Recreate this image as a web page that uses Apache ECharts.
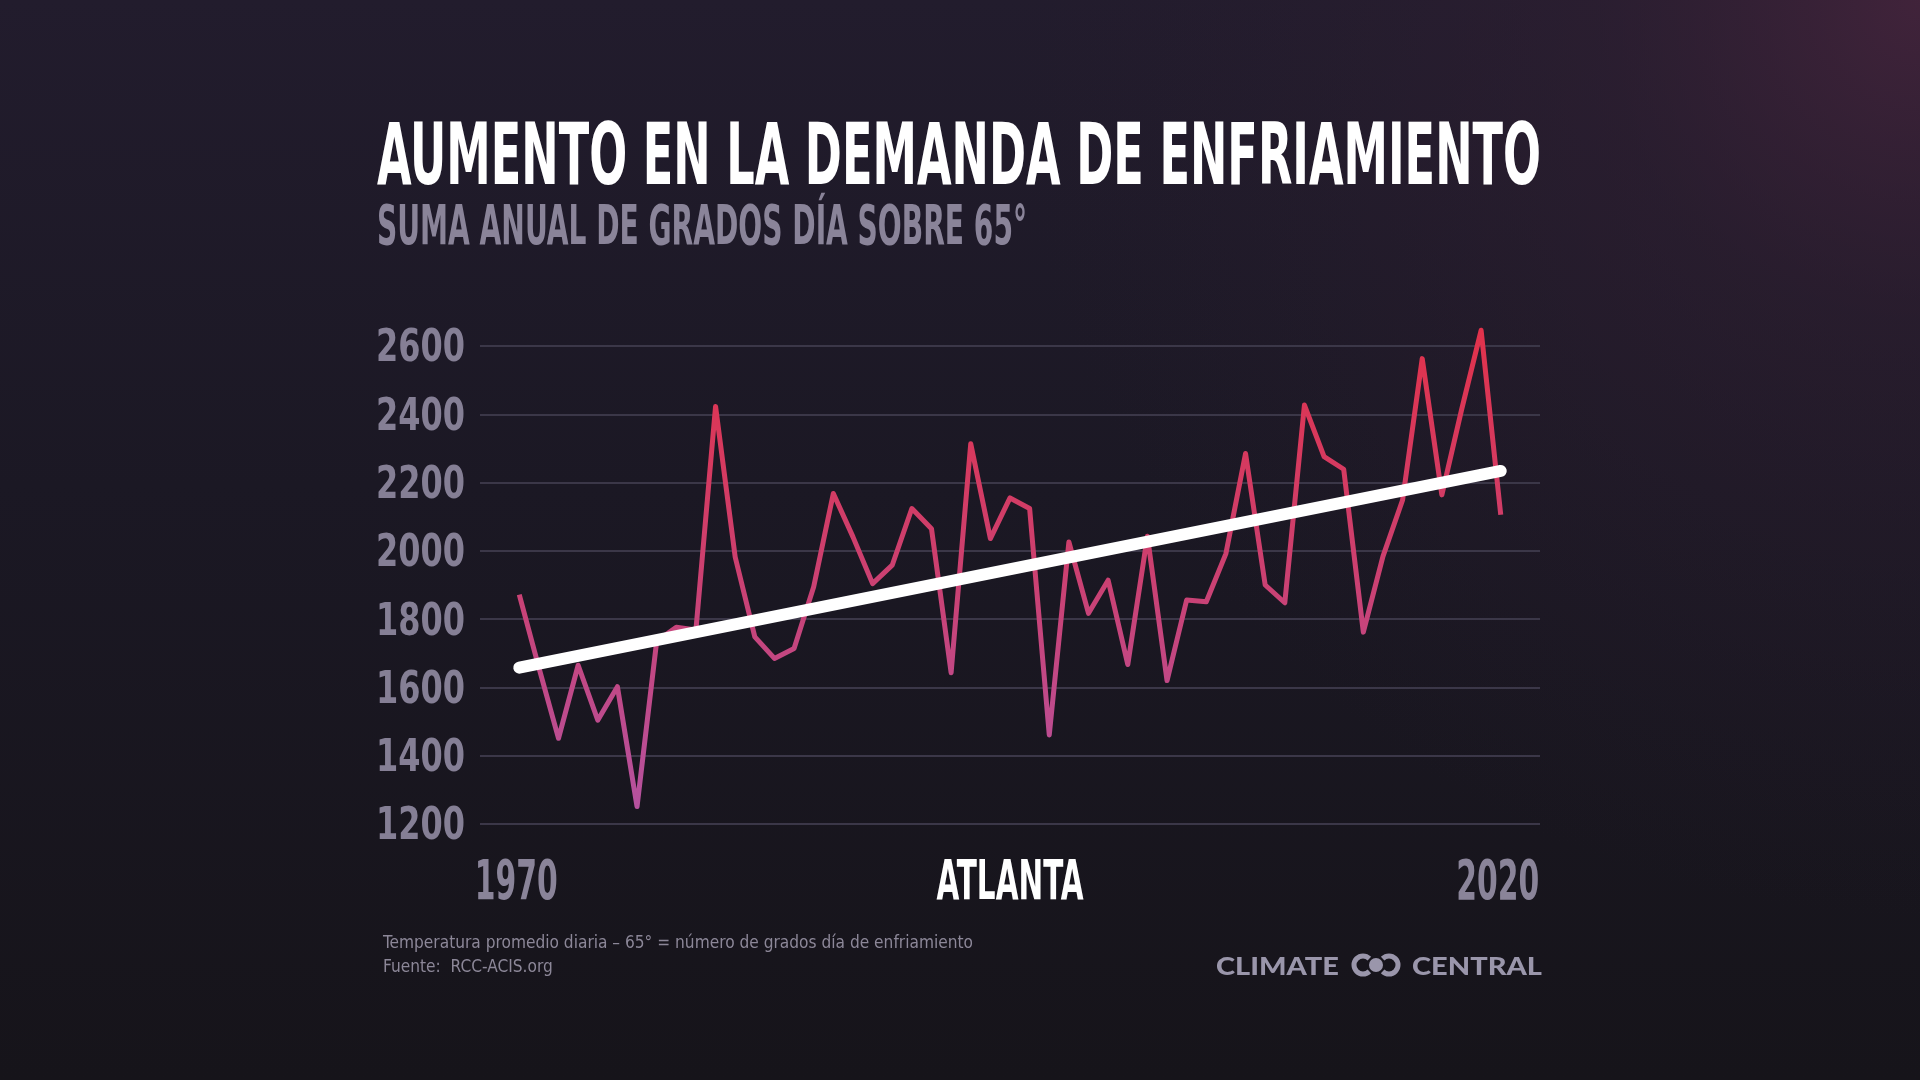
<!DOCTYPE html>
<html>
<head>
    <meta charset="utf-8">
    <title>Aumento en la demanda de enfriamiento</title>
    <script src="https://cdn.jsdelivr.net/npm/echarts@6/dist/echarts.min.js"></script>
    <style>
        html, body { margin: 0; padding: 0; background: #19161f; }
        #chart1 { width: 1920px; height: 1080px; }
    </style>
</head>
<body>
<div id="chart1"></div>
<script type="text/javascript">
    // datos: grados día de enfriamiento, Atlanta
    var years = [1970, 1971, 1972, 1973, 1974, 1975, 1976, 1977, 1978, 1979,
        1980, 1981, 1982, 1983, 1984, 1985, 1986, 1987, 1988, 1989,
        1990, 1991, 1992, 1993, 1994, 1995, 1996, 1997, 1998, 1999,
        2000, 2001, 2002, 2003, 2004, 2005, 2006, 2007, 2008, 2009,
        2010, 2011, 2012, 2013, 2014, 2015, 2016, 2017, 2018, 2019, 2020];
    var cdd = [1872, 1658, 1451, 1665, 1504, 1602, 1251, 1735, 1776, 1768,
        2423, 1982, 1748, 1685, 1714, 1895, 2168, 2041, 1904, 1958,
        2124, 2065, 1643, 2314, 2036, 2155, 2124, 1461, 2026, 1817,
        1914, 1667, 2043, 1620, 1856, 1851, 1992, 2285, 1900, 1848,
        2427, 2276, 2239, 1762, 1984, 2149, 2563, 2164, 2412, 2646, 2106];
    var trendYears = [1970, 2020];
    var trendValues = [1658, 2234];
    var yTicks = [1200, 1400, 1600, 1800, 2000, 2200, 2400, 2600];
    var xTickLabels = [1970, 2020];

    var NARROW = '"DejaVu Sans Condensed", "Liberation Sans Narrow", sans-serif';

    // ancho natural de un texto, para comprimirlo al ancho del original
    var measureCtx = document.createElement('canvas').getContext('2d');
    function fit(text, font, width) {
        measureCtx.font = font;
        return width / measureCtx.measureText(text).width;
    }
    // y = centro de las mayúsculas
    function label(text, size, font, fill, x, y, align, width, sx) {
        return {
            type: 'text', x: x, y: y + 0.09 * size, silent: true,
            scaleX: sx || fit(text, font, width),
            style: { text: text, font: font, fill: fill, textAlign: align, textVerticalAlign: 'middle' }
        };
    }

    var myChart1 = echarts.init(document.getElementById('chart1'));

    var fTitle = 'bold 86px ' + NARROW;
    var fSub = 'bold 55px ' + NARROW;
    var fBig = 'bold 55px ' + NARROW;
    var fTick = 'bold 44px ' + NARROW;
    var fNote = '18px ' + NARROW;
    var fLogo = '900 24px Lato, "Open Sans", sans-serif';
    var noteLine = 'Temperatura promedio diaria \u2013 65\u00b0 = n\u00famero de grados d\u00eda de enfriamiento';
    var noteScale = fit(noteLine, fNote, 590);
    var grey = '#8a8499';
    var logoGrey = '#9a96ab';

    var background = [
        {
            type: 'rect', z: -20, silent: true,
            shape: { x: 0, y: 0, width: 1920, height: 1080 },
            style: {
                fill: new echarts.graphic.LinearGradient(0, 0, 0, 1, [
                    { offset: 0, color: '#221c2d' },
                    { offset: 0.45, color: '#1b1824' },
                    { offset: 1, color: '#16141a' }
                ])
            }
        },
        {
            type: 'rect', z: -19, silent: true,
            shape: { x: 0, y: 0, width: 1920, height: 1080 },
            style: {
                fill: new echarts.graphic.RadialGradient(1, 0, 0.85, [
                    { offset: 0, color: 'rgba(68,36,60,0.9)' },
                    { offset: 0.35, color: 'rgba(52,32,52,0.45)' },
                    { offset: 1, color: 'rgba(40,28,45,0)' }
                ])
            }
        }
    ];

    var texts = [
        label('AUMENTO EN LA DEMANDA DE ENFRIAMIENTO', 86, fTitle, '#ffffff', 377, 154, 'left', 1164),
        label('SUMA ANUAL DE GRADOS D\u00cdA SOBRE 65\u00b0', 55, fSub, grey, 377, 225, 'left', 650),
        label('ATLANTA', 55, fBig, '#ffffff', 1010, 880, 'center', 147),
        label(noteLine, 18, fNote, '#8c8798', 383, 942, 'left', 0, noteScale),
        label('Fuente:  RCC-ACIS.org', 18, fNote, '#8c8798', 383, 966, 'left', 0, noteScale),
        label('CLIMATE', 24, fLogo, logoGrey, 1216, 965, 'left', 123),
        label('CENTRAL', 24, fLogo, logoGrey, 1542, 965, 'right', 130),
        // logotipo: dos anillos con un punto al centro
        {
            type: 'arc', silent: true,
            shape: { cx: 1363, cy: 965, r: 9, startAngle: Math.PI / 4, endAngle: Math.PI * 7 / 4, clockwise: true },
            style: { stroke: logoGrey, lineWidth: 5, fill: null }
        },
        {
            type: 'arc', silent: true,
            shape: { cx: 1389, cy: 965, r: 9, startAngle: -Math.PI * 3 / 4, endAngle: Math.PI * 3 / 4, clockwise: true },
            style: { stroke: logoGrey, lineWidth: 5, fill: null }
        },
        {
            type: 'circle', silent: true,
            shape: { cx: 1376, cy: 965, r: 7 },
            style: { fill: logoGrey }
        }
    ];

    myChart1.setOption({
        animation: false,
        grid: { left: 480, right: 380, top: 346, bottom: 256 },
        xAxis: {
            type: 'value', min: 1968, max: 2022,
            axisLine: { show: false }, axisTick: { show: false },
            axisLabel: { show: false }, splitLine: { show: false }
        },
        yAxis: {
            type: 'value', min: yTicks[0], max: yTicks[yTicks.length - 1], interval: 200,
            axisLine: { show: false }, axisTick: { show: false },
            axisLabel: { show: false },
            splitLine: { lineStyle: { color: '#3b3748', width: 2 } }
        },
        graphic: background.concat(texts),
        series: [
            {
                name: 'Grados día',
                type: 'line',
                showSymbol: false,
                clip: false,
                data: years.map(function (y, i) { return [y, cdd[i]]; }),
                lineStyle: {
                    width: 5, join: 'round',
                    color: new echarts.graphic.LinearGradient(0, 0, 0, 1, [
                        { offset: 0, color: '#e2324b' },
                        { offset: 0.5, color: '#cc4070' },
                        { offset: 1, color: '#b5529f' }
                    ])
                },
                z: 2
            },
            {
                name: 'Tendencia',
                type: 'line',
                showSymbol: false,
                clip: false,
                data: trendYears.map(function (y, i) { return [y, trendValues[i]]; }),
                lineStyle: { width: 12, color: '#ffffff', cap: 'round' },
                z: 3
            }
        ]
    });

    // etiquetas de los ejes, colocadas con las escalas del gráfico y comprimidas
    var yearScale = fit('1970', fBig, 83);
    var tickScale = fit('2600', fTick, 89);
    var axisLabels = xTickLabels.map(function (yr) {
        var px = myChart1.convertToPixel({ gridIndex: 0 }, [yr, yTicks[0]]);
        return label(String(yr), 55, fBig, grey, px[0] - 3, 880, 'center', 0, yearScale);
    }).concat(yTicks.map(function (v) {
        var px = myChart1.convertToPixel({ gridIndex: 0 }, [1968, v]);
        return label(String(v), 44, fTick, '#857f95', px[0] - 15, px[1], 'right', 0, tickScale);
    }));
    myChart1.setOption({ graphic: background.concat(texts, axisLabels) });
</script>
</body>
</html>
